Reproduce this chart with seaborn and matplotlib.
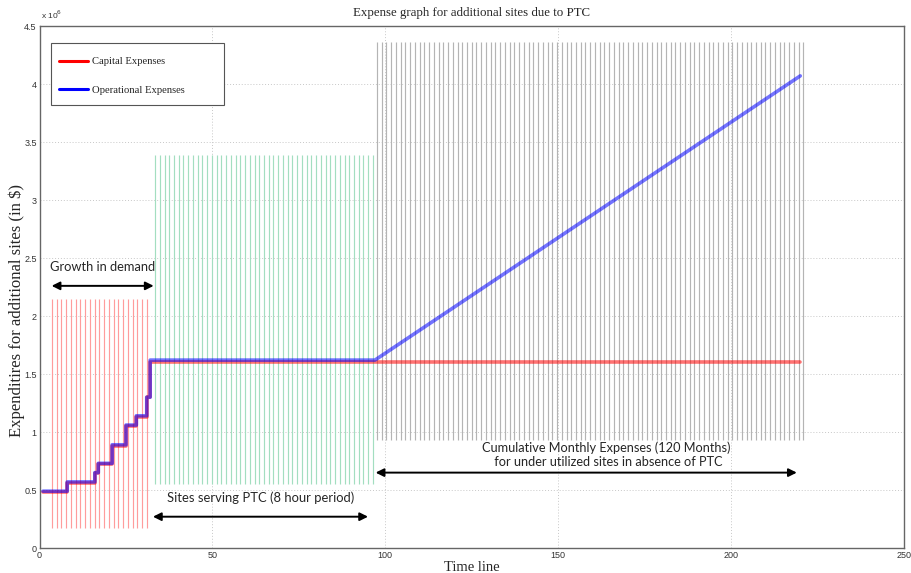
import numpy as np
import pandas as pd
import matplotlib
matplotlib.use("Agg")
import matplotlib.pyplot as plt
from matplotlib.patches import Rectangle
import seaborn as sns

# month at which each level starts (steps until the ramp starts at month 97)
months = [1, 8, 16, 17, 21, 25, 28, 31, 32, 97, 220]
capital = [0.48, 0.56, 0.65, 0.72, 0.88, 1.05, 1.13, 1.30, 1.60, 1.60, 1.60]
operational = [0.49, 0.57, 0.65, 0.73, 0.89, 1.06, 1.14, 1.30, 1.62, 1.62, 4.07]
ramp_start = 97

# shaded phases drawn as thin vertical lines
phase_names = ["growth", "ptc", "cumulative"]
phase_start = [3.6, 33.4, 97.6]
phase_end = [32.3, 97.1, 221.0]
phase_low = [0.17, 0.55, 0.93]
phase_high = [2.15, 3.39, 4.36]
phase_colors = ["#ff9c9c", "#a3dec0", "#b4b4b4"]
line_step = 1.37

xticks = [0, 50, 100, 150, 200, 250]
yticks = [0, 0.5, 1, 1.5, 2, 2.5, 3, 3.5, 4, 4.5]


def step_path(x, y, ramp):
    xs, ys = [], []
    for i in range(len(x) - 1):
        xs.append(x[i])
        ys.append(y[i])
        if x[i] < ramp:
            xs.append(x[i + 1])
            ys.append(y[i])
    xs.append(x[-1])
    ys.append(y[-1])
    return xs, ys


sns.set_style("white")
serif = ["Liberation Serif", "DejaVu Serif"]
narrow = ["Liberation Sans Narrow", "Liberation Sans", "DejaVu Sans"]
note_font = ["Lato", "DejaVu Sans"]

fig = plt.figure(figsize=(9.11, 5.73), dpi=100)
ax = fig.add_axes([0.0434, 0.0436, 0.9489, 0.911])

for name, x0, x1, lo, hi, col in zip(phase_names, phase_start, phase_end,
                                     phase_low, phase_high, phase_colors):
    xs = np.arange(x0, x1, line_step)
    ax.vlines(xs, lo, hi, colors=col, linewidth=0.85, zorder=1)

frames = []
for label, vals in [("Capital Expenses", capital), ("Operational Expenses", operational)]:
    xs, ys = step_path(months, vals, ramp_start)
    frames.append(pd.DataFrame({"month": xs, "cost": ys, "kind": label}))
df = pd.concat(frames, ignore_index=True)

sns.lineplot(data=df, x="month", y="cost", hue="kind",
             palette={"Capital Expenses": "#ff0000", "Operational Expenses": "#0000ff"},
             estimator=None, sort=False, linewidth=2.6, alpha=0.55, ax=ax, zorder=3)

ax.set_xlim(0, 250)
ax.set_ylim(0, 4.5)
ax.set_xticks(xticks)
ax.set_yticks(yticks)
ax.set_xticklabels([f"{t:g}" for t in xticks], family=narrow, fontsize=6.5, color="#333333")
ax.set_yticklabels([f"{t:g}" for t in yticks], family=narrow, fontsize=6.5, color="#333333")
ax.tick_params(direction="in", length=4, color="#555555", pad=2)
ax.grid(True, linestyle=(0, (1, 2)), color="#c8c8c8", linewidth=0.7)
for sp in ax.spines.values():
    sp.set_color("#666666")
    sp.set_linewidth(1.0)

ax.set_xlabel("Time line", family=serif, fontsize=10.5, labelpad=1)
ax.set_ylabel("Expenditires for additional sites (in $)", family=serif, fontsize=12)
ax.yaxis.set_label_coords(-0.017, 0.455)
ax.set_title("Expense graph for additional sites due to PTC", family=serif, fontsize=9.3, pad=7)
ax.text(0.3, 4.56, r"x 10$^6$", family=narrow, fontsize=6, color="#333333")

arrow = dict(arrowstyle="<|-|>", color="black", lw=1.4, mutation_scale=12,
             shrinkA=0, shrinkB=0)
ax.annotate("", xy=(3.5, 2.26), xytext=(33, 2.26), arrowprops=arrow, zorder=5)
ax.text(3.0, 2.42, "Growth in demand", family=note_font, fontsize=9.3, va="center")
ax.annotate("", xy=(32.8, 0.27), xytext=(95, 0.27), arrowprops=arrow, zorder=5)
ax.text(37.0, 0.43, "Sites serving PTC (8 hour period)", family=note_font, fontsize=9.4,
        va="center")
ax.annotate("", xy=(97.2, 0.65), xytext=(219, 0.65), arrowprops=arrow, zorder=5)
ax.text(164, 0.80, "Cumulative Monthly Expenses (120 Months)\n for under utilized sites in absence of PTC",
        family=note_font, fontsize=9.2, ha="center", va="center", linespacing=1.2)

# legend box is wider than its content, as in the original
ax.add_patch(Rectangle((0.0133, 0.8487), 0.2001, 0.1187, transform=ax.transAxes,
                       facecolor="white", edgecolor="#555555", linewidth=0.8, zorder=6))
leg = ax.legend(loc="upper left", bbox_to_anchor=(0.0133, 0.955), borderaxespad=0,
                prop={"family": serif, "size": 7.7}, frameon=False, labelspacing=1.75,
                handlelength=2.8, borderpad=0.7, handletextpad=0.3)
leg.set_zorder(7)
for h in leg.legend_handles:
    h.set_alpha(1.0)
    h.set_linewidth(2.2)

fig.savefig("out.png", dpi=100)
